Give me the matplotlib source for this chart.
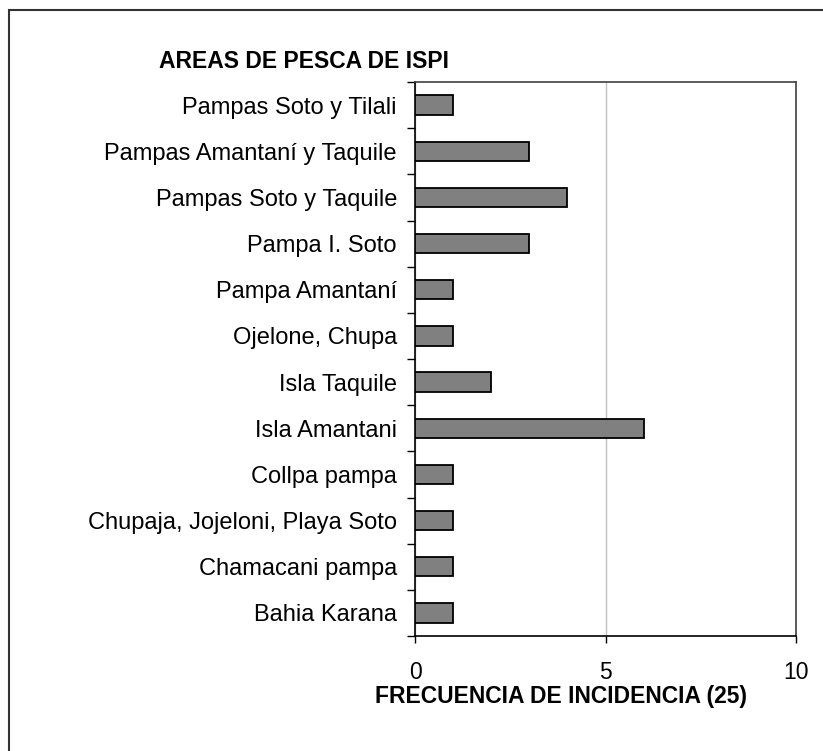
import matplotlib
matplotlib.use("Agg")
import matplotlib.pyplot as plt
from matplotlib.patches import Rectangle
import numpy as np

categories = ["Bahia Karana", "Chamacani pampa", "Chupaja, Jojeloni, Playa Soto",
              "Collpa pampa", "Isla Amantani", "Isla Taquile", "Ojelone, Chupa",
              "Pampa Amantaní", "Pampa I. Soto", "Pampas Soto y Taquile",
              "Pampas Amantaní y Taquile", "Pampas Soto y Tilali"]
values = [1, 1, 1, 1, 6, 2, 1, 1, 3, 4, 3, 1]
x_ticks = [0, 5, 10]
title = "AREAS DE PESCA DE ISPI"
xlabel = "FRECUENCIA DE INCIDENCIA (25)"

plt.rcParams['font.family'] = ['Liberation Sans', 'DejaVu Sans']

W, H = 823, 751
fig = plt.figure(figsize=(W / 100, H / 100), dpi=100)

# outer frame (partially cropped on right/bottom)
fig.patches.append(Rectangle((9 / W, -0.1), 1.2, 1 - 10 / H + 0.1,
                             transform=fig.transFigure, fill=False,
                             edgecolor='#333333', linewidth=1.5))

ax = fig.add_axes([415 / W, 1 - 636 / H, (796 - 415) / W, (636 - 82) / H])
pos = np.arange(len(categories))
ax.barh(pos, values, height=0.42, color='#808080', edgecolor='black',
        linewidth=1.3, zorder=3)

ax.set_xlim(0, 10)
ax.set_ylim(-0.5, len(categories) - 0.5)

ax.set_xticks(x_ticks)
ax.set_xticklabels([str(t) for t in x_ticks], fontsize=16.5)
ax.tick_params(axis='x', direction='out', length=5, width=1, pad=13)

ax.set_yticks(np.arange(-0.5, len(categories), 1.0))
ax.set_yticklabels([])
ax.tick_params(axis='y', which='major', direction='out', length=6, width=1)
ax.set_yticks(pos, minor=True)
ax.set_yticklabels(categories, minor=True, fontsize=17)
ax.tick_params(axis='y', which='minor', length=0, pad=13)

ax.xaxis.grid(True, color='#c0c0c0', linewidth=1, zorder=0)
ax.set_axisbelow(True)

for s in ['left', 'bottom']:
    ax.spines[s].set_color('black')
    ax.spines[s].set_linewidth(1.2)
for s in ['top', 'right']:
    ax.spines[s].set_color('#404040')
    ax.spines[s].set_linewidth(1.2)

fig.text(304 / W, 1 - 62 / H, title, fontsize=16.5, fontweight='bold',
         ha='center', va='center')
fig.text(561 / W, 1 - 697 / H, xlabel, fontsize=16.5, fontweight='bold',
         ha='center', va='center')

fig.savefig("out.png", dpi=100, facecolor='white')
